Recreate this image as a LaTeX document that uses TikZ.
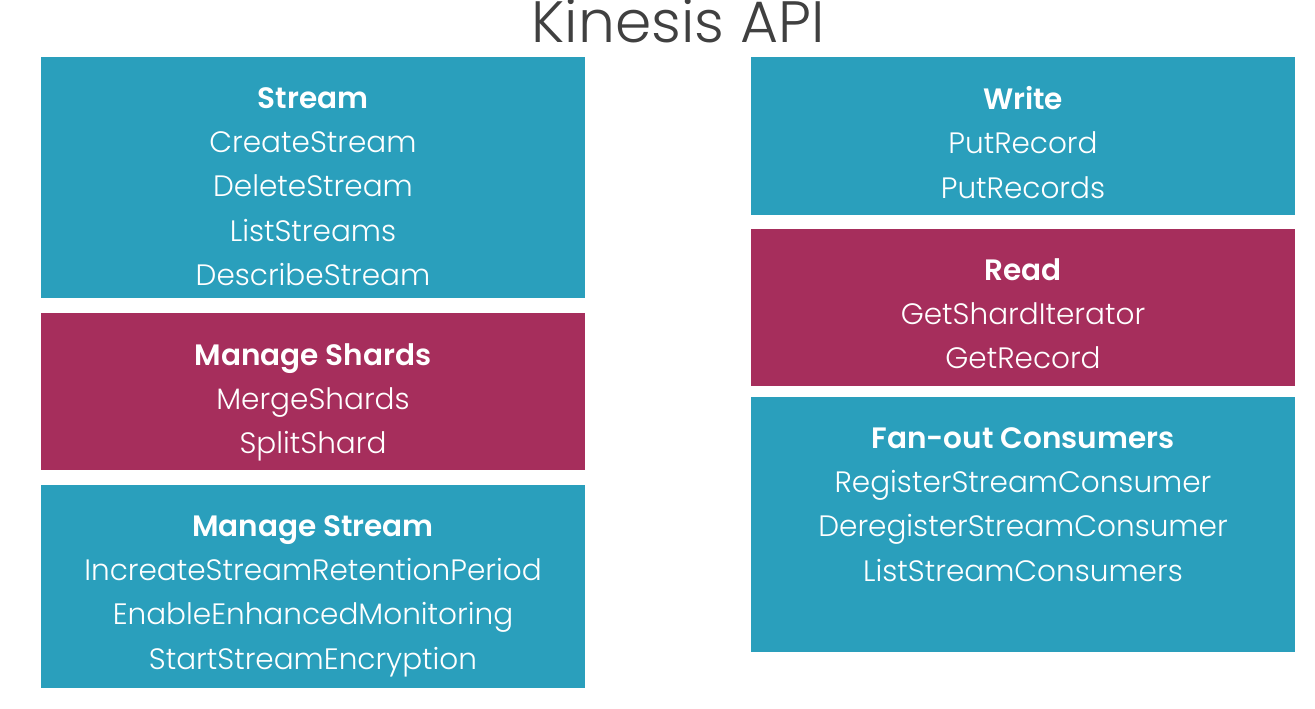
\documentclass[tikz,border=0pt]{standalone}
\usepackage{fontspec}
\setmainfont{Poppins Light}
\newfontfamily\headfont{Poppins SemiBold}
\usetikzlibrary{positioning}

\definecolor{kteal}{RGB}{42,159,188}
\definecolor{kred}{RGB}{166,46,92}
\definecolor{ktitle}{RGB}{64,64,64}

\newcommand{\hd}[1]{{\headfont #1}}

\begin{document}
\begin{tikzpicture}[x=0.02cm, y=-0.02cm]
\tikzset{ box/.style={rectangle, minimum width=10.88cm, inner sep=0pt, outer sep=0pt},
          tealbox/.style={box, fill=kteal},
          redbox/.style={box, fill=kred},
          txt/.style={text=white, align=center, inner sep=0pt, anchor=north,
                      font=\fontsize{16.8}{25.2}\selectfont},
        }

\useasboundingbox (0,0) rectangle (1315,708);

%\draw [lightgray, dashed](0,0) grid [step=50] (1315,708);

\node [text=ktitle, font=\fontsize{33.2}{38}\selectfont] (title) at (678,21) {Kinesis API};

% left column
\node [tealbox, minimum height=4.82cm] (stream)  at (313,177.5) {};
\node [redbox,  minimum height=3.14cm] (shards)  at (313,391.5) {};
\node [tealbox, minimum height=4.06cm] (mstream) at (313,586.5) {};

% right column
\node [tealbox, minimum height=3.16cm] (write)  at (1023,136) {};
\node [redbox,  minimum height=3.14cm] (read)   at (1023,307.5) {};
\node [tealbox, minimum height=5.10cm] (fanout) at (1023,524.5) {};

\node [txt, below=0.6cm of stream.north] (streamtxt)
  {\hd{Stream}\\CreateStream\\DeleteStream\\ListStreams\\DescribeStream};
\node [txt, below=0.6cm of shards.north] (shardstxt)
  {\hd{Manage Shards}\\MergeShards\\SplitShard};
\node [txt, below=0.6cm of mstream.north] (mstreamtxt)
  {\hd{Manage Stream}\\IncreateStreamRetentionPeriod\\EnableEnhancedMonitoring\\StartStreamEncryption};

\node [txt, below=0.58cm of write.north] (writetxt)
  {\hd{Write}\\PutRecord\\PutRecords};
\node [txt, below=0.58cm of read.north] (readtxt)
  {\hd{Read}\\GetShardIterator\\GetRecord};
\node [txt, below=0.6cm of fanout.north] (fanouttxt)
  {\hd{Fan-out Consumers}\\RegisterStreamConsumer\\DeregisterStreamConsumer\\ListStreamConsumers};

\end{tikzpicture}
\end{document}
